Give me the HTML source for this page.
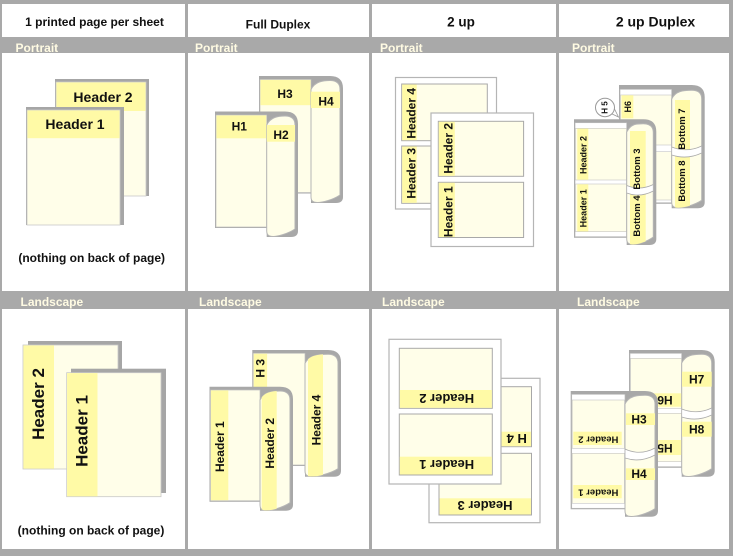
<!DOCTYPE html>
<html><head><meta charset="utf-8">
<style>
html,body{margin:0;padding:0;background:#fff;}
svg{display:block;}
text{font-family:"Liberation Sans",Arial,sans-serif;font-weight:bold;}
.c{text-anchor:middle;dominant-baseline:central;fill:#111;}
.bar{fill:#fffbe3;font-size:12px;}
</style></head><body>
<svg width="733" height="556" viewBox="0 0 733 556" xmlns="http://www.w3.org/2000/svg">
<defs>
<path id="pA" d="M311,89.5 C315,81.5 323,80.5 330,80.5 Q340,80.5 340,89.5 L340,195 C334,199 321,204 314,202 Q311,201 311,197 Z"/>
<path id="pB" d="M266.7,125 C270.7,117 278,116 285,116 Q295,116 295,125 L295,229 C289,233 276,238 269.7,236 Q266.7,235 266.7,231 Z"/>
<path id="pC" d="M305,363.3 C309,355.3 318,354.3 328,354.3 Q338,354.3 338,363.3 L338,468.7 C332,472.7 316,478 308,476 Q305,475 305,471 Z"/>
<path id="pD" d="M260,400 C264,392 272,391 280,391 Q290,391 290,400 L290,502.7 C284,506.7 270,512 263,510 Q260,509 260,505 Z"/>
<path id="pE" d="M671.7,99 C675.7,91 683,90.3 691.7,90.3 Q701.7,90.3 701.7,99 L701.7,200.3 C695.7,204.3 682,209.3 674.7,207.3 Q671.7,206.3 671.7,202.3 Z"/>
<path id="pF" d="M626.7,132 C630.7,124 636,123.7 643.3,123.7 Q653.3,123.7 653.3,132.7 L653.3,237 C648,241 636,246 629.7,244 Q626.7,243 626.7,239 Z"/>
<path id="pG" d="M681.7,363 C685.7,355 693,354.3 701.7,354.3 Q711.7,354.3 711.7,363.3 L711.7,468.7 C705.7,472.7 692,478 684.7,476 Q681.7,475 681.7,471 Z"/>
<path id="pH" d="M625,404 C629,396 637,395.3 645,395.3 Q655,395.3 655,404.3 L655,508.7 C649,512.7 635,518 628,516 Q625,515 625,511 Z"/>
<clipPath id="cA"><use href="#pA"/></clipPath>
<clipPath id="cB"><use href="#pB"/></clipPath>
<clipPath id="cC"><use href="#pC"/></clipPath>
<clipPath id="cD"><use href="#pD"/></clipPath>
<clipPath id="cE"><use href="#pE"/></clipPath>
<clipPath id="cF"><use href="#pF"/></clipPath>
<clipPath id="cG"><use href="#pG"/></clipPath>
<clipPath id="cH"><use href="#pH"/></clipPath>
</defs>

<!-- frame -->
<rect width="733" height="556" fill="#a9a9a9"/>
<rect x="2" y="4" width="183" height="33" fill="#fff"/>
<rect x="188" y="4" width="181" height="33" fill="#fff"/>
<rect x="372" y="4" width="184" height="33" fill="#fff"/>
<rect x="559" y="4" width="170" height="33" fill="#fff"/>
<rect x="2" y="53" width="183" height="238" fill="#fff"/>
<rect x="188" y="53" width="181" height="238" fill="#fff"/>
<rect x="372" y="53" width="184" height="238" fill="#fff"/>
<rect x="559" y="53" width="170" height="238" fill="#fff"/>
<rect x="2" y="309" width="183" height="240" fill="#fff"/>
<rect x="188" y="309" width="181" height="240" fill="#fff"/>
<rect x="372" y="309" width="184" height="240" fill="#fff"/>
<rect x="559" y="309" width="170" height="240" fill="#fff"/>

<!-- titles -->
<text x="94.5" y="26" font-size="12" text-anchor="middle" fill="#111">1 printed page per sheet</text>
<text x="278" y="28.3" font-size="12" text-anchor="middle" fill="#111">Full Duplex</text>
<text x="461" y="26.5" font-size="13.5" text-anchor="middle" fill="#111">2 up</text>
<text x="655.5" y="26.5" font-size="14" text-anchor="middle" fill="#111">2 up Duplex</text>

<text x="15.5" y="52" class="bar">Portrait</text>
<text x="195" y="52" class="bar">Portrait</text>
<text x="380" y="52" class="bar">Portrait</text>
<text x="572" y="52" class="bar">Portrait</text>
<text x="20.5" y="306" class="bar">Landscape</text>
<text x="199" y="306" class="bar">Landscape</text>
<text x="382" y="306" class="bar">Landscape</text>
<text x="577" y="306" class="bar">Landscape</text>

<!-- ============ COL1 PORTRAIT ============ -->
<rect x="55" y="79" width="94" height="117" fill="#a6a6a6"/>
<rect x="56" y="82" width="90" height="114" fill="#fffee9" stroke="#c8c8c8" stroke-width="0.8"/>
<rect x="56.4" y="82.4" width="89.2" height="28.6" fill="#fffaa6"/>
<text x="103" y="97" font-size="14" class="c">Header 2</text>
<rect x="26" y="107" width="98" height="118" fill="#a6a6a6"/>
<rect x="27" y="110" width="93" height="115" fill="#fffee9" stroke="#c8c8c8" stroke-width="0.8"/>
<rect x="27.4" y="110.4" width="92.2" height="27.8" fill="#fffaa6"/>
<text x="75" y="124" font-size="14" class="c">Header 1</text>
<text x="91.7" y="258" font-size="12" class="c">(nothing on back of page)</text>

<!-- ============ COL1 LANDSCAPE ============ -->
<rect x="28" y="341" width="94" height="126" fill="#a6a6a6"/>
<rect x="23" y="345" width="95" height="124" fill="#fffee9" stroke="#c8c8c8" stroke-width="0.8"/>
<rect x="23.4" y="345.4" width="30.6" height="123.2" fill="#fffaa6"/>
<text x="38.5" y="404" font-size="17" class="c" transform="rotate(-90 38.5 404)">Header 2</text>
<rect x="71" y="368.7" width="95" height="124.3" fill="#a6a6a6"/>
<rect x="66.7" y="372.7" width="94.3" height="124" fill="#fffee9" stroke="#c8c8c8" stroke-width="0.8"/>
<rect x="67.1" y="373.1" width="30.4" height="123.2" fill="#fffaa6"/>
<text x="82" y="431" font-size="17" class="c" transform="rotate(-90 82 431)">Header 1</text>
<text x="91" y="530.7" font-size="12" class="c">(nothing on back of page)</text>

<!-- ============ COL2 PORTRAIT (Full Duplex) ============ -->
<path d="M259,76 L330,76 Q343,76 343,88.5 L343,197 Q343,203 336,203 L311,203 L311,193.5 L259,193.5 Z" fill="#a8a8a8"/>
<rect x="260" y="79.5" width="51" height="113" fill="#fffee9" stroke="#c0c0c0" stroke-width="0.7"/>
<rect x="260.4" y="79.9" width="50.2" height="25.3" fill="#fffaa6"/>
<use href="#pA" fill="#fffee9" stroke="#b5b5b5" stroke-width="1"/>
<rect x="311" y="91.7" width="29" height="16.3" fill="#fffaa6" clip-path="url(#cA)"/>
<text x="285" y="94" font-size="12" class="c">H3</text>
<text x="326" y="101.5" font-size="12" class="c">H4</text>
<path d="M215,111.5 L285,111.5 Q298,111.5 298,124 L298,231 Q298,237 291,237 L266.7,237 L266.7,228 L215,228 Z" fill="#a8a8a8"/>
<rect x="216" y="115" width="50.7" height="112" fill="#fffee9" stroke="#c0c0c0" stroke-width="0.7"/>
<rect x="216.4" y="115.4" width="49.9" height="22.9" fill="#fffaa6"/>
<use href="#pB" fill="#fffee9" stroke="#b5b5b5" stroke-width="1"/>
<rect x="266.7" y="125" width="28.3" height="16.7" fill="#fffaa6" clip-path="url(#cB)"/>
<text x="239.3" y="126.7" font-size="12" class="c">H1</text>
<text x="281" y="135" font-size="12" class="c">H2</text>

<!-- ============ COL2 LANDSCAPE ============ -->
<path d="M252.3,350 L328,350 Q341,350 341,362.3 L341,470.7 Q341,476.7 334,476.7 L305,476.7 L305,466 L252.3,466 Z" fill="#a8a8a8"/>
<rect x="253.3" y="353.3" width="51.7" height="111.7" fill="#fffee9" stroke="#c0c0c0" stroke-width="0.7"/>
<rect x="253.7" y="353.7" width="13.4" height="110.9" fill="#fffaa6"/>
<use href="#pC" fill="#fffee9" stroke="#b5b5b5" stroke-width="1"/>
<rect x="308" y="353" width="15" height="126" fill="#fffaa6" clip-path="url(#cC)"/>
<text x="260.7" y="368.3" font-size="12" class="c" transform="rotate(-90 260.7 368.3)">H 3</text>
<text x="316.7" y="420" font-size="12" class="c" transform="rotate(-90 316.7 420)">Header 4</text>
<path d="M209.5,386.7 L280,386.7 Q293,386.7 293,399 L293,504.7 Q293,510.7 286,510.7 L260,510.7 L260,501.7 L209.5,501.7 Z" fill="#a8a8a8"/>
<rect x="210.5" y="390" width="49.5" height="110.7" fill="#fffee9" stroke="#c0c0c0" stroke-width="0.7"/>
<rect x="210.9" y="390.4" width="17.4" height="109.9" fill="#fffaa6"/>
<use href="#pD" fill="#fffee9" stroke="#b5b5b5" stroke-width="1"/>
<rect x="261.7" y="390" width="15" height="125" fill="#fffaa6" clip-path="url(#cD)"/>
<text x="220" y="446.7" font-size="12" class="c" transform="rotate(-90 220 446.7)">Header 1</text>
<text x="270" y="443.3" font-size="12" class="c" transform="rotate(-90 270 443.3)">Header 2</text>

<!-- ============ COL3 PORTRAIT (2 up) ============ -->
<rect x="395.5" y="77.5" width="101" height="131.5" fill="#fff" stroke="#b5b5b5" stroke-width="1.2"/>
<rect x="401.7" y="84" width="85.6" height="56.7" fill="#fffee9" stroke="#a8a8a8" stroke-width="1"/>
<rect x="402.2" y="84.5" width="14.5" height="55.7" fill="#fffaa6"/>
<text x="411.7" y="113.3" font-size="12" class="c" transform="rotate(-90 411.7 113.3)">Header 4</text>
<rect x="401.7" y="146" width="85.6" height="57.3" fill="#fffee9" stroke="#a8a8a8" stroke-width="1"/>
<rect x="402.2" y="146.5" width="14.5" height="56.3" fill="#fffaa6"/>
<text x="411.7" y="173.3" font-size="12" class="c" transform="rotate(-90 411.7 173.3)">Header 3</text>

<rect x="431" y="113" width="102.5" height="133.5" fill="#fff" stroke="#b5b5b5" stroke-width="1.2"/>
<rect x="438.3" y="121.3" width="85.3" height="55" fill="#fffee9" stroke="#a8a8a8" stroke-width="1"/>
<rect x="438.8" y="121.8" width="16" height="54" fill="#fffaa6"/>
<text x="448.3" y="148.3" font-size="12" class="c" transform="rotate(-90 448.3 148.3)">Header 2</text>
<rect x="438.3" y="182.3" width="85.3" height="55.2" fill="#fffee9" stroke="#a8a8a8" stroke-width="1"/>
<rect x="438.8" y="182.8" width="16" height="54.2" fill="#fffaa6"/>
<text x="448.3" y="211.7" font-size="12" class="c" transform="rotate(-90 448.3 211.7)">Header 1</text>

<!-- ============ COL3 LANDSCAPE ============ -->
<rect x="429" y="378.3" width="111" height="144.4" fill="#fff" stroke="#b5b5b5" stroke-width="1.2"/>
<rect x="439" y="386.7" width="92.5" height="60" fill="#fffee9" stroke="#a8a8a8" stroke-width="1"/>
<rect x="439.5" y="431.7" width="91.5" height="14.5" fill="#fffaa6"/>
<text x="516.7" y="438.5" font-size="13" class="c" transform="rotate(180 516.7 438.5)">H 4</text>
<rect x="439" y="453.3" width="92.5" height="61.7" fill="#fffee9" stroke="#a8a8a8" stroke-width="1"/>
<rect x="439.5" y="498.3" width="91.5" height="16.2" fill="#fffaa6"/>
<text x="485" y="505.7" font-size="13" class="c" transform="rotate(180 485 505.7)">Header 3</text>

<rect x="389" y="339.3" width="112" height="144.7" fill="#fff" stroke="#b5b5b5" stroke-width="1.2"/>
<rect x="399.3" y="348.3" width="93" height="60" fill="#fffee9" stroke="#a8a8a8" stroke-width="1"/>
<rect x="399.8" y="390" width="92" height="17.8" fill="#fffaa6"/>
<text x="446.7" y="398.5" font-size="13" class="c" transform="rotate(180 446.7 398.5)">Header 2</text>
<rect x="399.3" y="414" width="93" height="61" fill="#fffee9" stroke="#a8a8a8" stroke-width="1"/>
<rect x="399.8" y="456.7" width="92" height="17.8" fill="#fffaa6"/>
<text x="446.7" y="464.5" font-size="13" class="c" transform="rotate(180 446.7 464.5)">Header 1</text>

<!-- ============ COL4 PORTRAIT (2 up Duplex) ============ -->
<path d="M619,85 L691.7,85 Q704.7,85 704.7,97.3 L704.7,202.3 Q704.7,208.3 697.7,208.3 L671.7,208.3 L671.7,203.7 L619,203.7 Z" fill="#a8a8a8"/>
<rect x="620" y="89.3" width="51.7" height="113.4" fill="#fff" stroke="#bbb" stroke-width="0.7"/>
<rect x="620.5" y="95" width="51" height="50" fill="#fffee9" stroke="#c4c4c4" stroke-width="0.6"/>
<rect x="620.5" y="151.7" width="51" height="48.3" fill="#fffee9" stroke="#c4c4c4" stroke-width="0.6"/>
<rect x="621.5" y="95.3" width="11.8" height="23" fill="#fffaa6"/>
<text x="628" y="106.7" font-size="9" class="c" transform="rotate(-90 628 106.7)">H6</text>
<use href="#pE" fill="#fffee9" stroke="#b5b5b5" stroke-width="1"/>
<rect x="675" y="100" width="15" height="110" fill="#fffaa6" clip-path="url(#cE)"/>
<path d="M671.7,147 Q687,153 701.7,146 L701.7,153 Q687,160 671.7,155 Z" fill="#fff" stroke="#aaa" stroke-width="0.8" clip-path="url(#cE)"/>
<text x="682.3" y="129" font-size="9.5" class="c" transform="rotate(-90 682.3 129)">Bottom 7</text>
<text x="682.3" y="181" font-size="9.5" class="c" transform="rotate(-90 682.3 181)">Bottom 8</text>
<path d="M610,113 L618.5,117 L614,108 Z" fill="#fff" stroke="#999" stroke-width="0.8"/>
<ellipse cx="605" cy="107.5" rx="9.5" ry="9.2" fill="#fff" stroke="#999" stroke-width="1"/>
<text x="605" y="107.5" font-size="8" class="c" transform="rotate(-90 605 107.5)">H 5</text>
<path d="M574,119.3 L643.3,119.3 Q656.3,119.3 656.3,131.7 L656.3,239 Q656.3,245 649.3,245 L626.7,245 L626.7,237.7 L574,237.7 Z" fill="#a8a8a8"/>
<rect x="575" y="122.7" width="51.7" height="114" fill="#fff" stroke="#bbb" stroke-width="0.7"/>
<rect x="575.5" y="128.3" width="51" height="51.7" fill="#fffee9" stroke="#c4c4c4" stroke-width="0.6"/>
<rect x="575.5" y="184" width="51" height="47.7" fill="#fffee9" stroke="#c4c4c4" stroke-width="0.6"/>
<rect x="577.3" y="128.6" width="11" height="51.1" fill="#fffaa6"/>
<rect x="577.3" y="184.3" width="11" height="47.1" fill="#fffaa6"/>
<text x="583.3" y="155" font-size="9" class="c" transform="rotate(-90 583.3 155)">Header 2</text>
<text x="583.3" y="208.3" font-size="9" class="c" transform="rotate(-90 583.3 208.3)">Header 1</text>
<use href="#pF" fill="#fffee9" stroke="#b5b5b5" stroke-width="1"/>
<rect x="630" y="131" width="15.7" height="116" fill="#fffaa6" clip-path="url(#cF)"/>
<path d="M626.7,185.5 Q640,191 653.3,184.5 L653.3,191 Q640,198 626.7,193 Z" fill="#fff" stroke="#aaa" stroke-width="0.8" clip-path="url(#cF)"/>
<text x="637.7" y="169" font-size="9.5" class="c" transform="rotate(-90 637.7 169)">Bottom 3</text>
<text x="637.7" y="216" font-size="9.5" class="c" transform="rotate(-90 637.7 216)">Bottom 4</text>

<!-- ============ COL4 LANDSCAPE ============ -->
<path d="M629,350 L701.7,350 Q714.7,350 714.7,362.3 L714.7,470.7 Q714.7,476.7 707.7,476.7 L681.7,476.7 L681.7,467.7 L629,467.7 Z" fill="#a8a8a8"/>
<rect x="630" y="353.3" width="51.7" height="113.4" fill="#fff" stroke="#bbb" stroke-width="0.7"/>
<rect x="630.5" y="358.3" width="51" height="50" fill="#fffee9" stroke="#c4c4c4" stroke-width="0.6"/>
<rect x="630.5" y="413.3" width="51" height="48.4" fill="#fffee9" stroke="#c4c4c4" stroke-width="0.6"/>
<rect x="651.7" y="393.3" width="30" height="13.4" fill="#fffaa6"/>
<rect x="651.7" y="440" width="30" height="15" fill="#fffaa6"/>
<text x="665" y="400" font-size="12" class="c" transform="rotate(180 665 400)">H6</text>
<text x="665" y="448" font-size="12" class="c" transform="rotate(180 665 448)">H5</text>
<use href="#pG" fill="#fffee9" stroke="#b5b5b5" stroke-width="1"/>
<rect x="682" y="371.7" width="30" height="15" fill="#fffaa6" clip-path="url(#cG)"/>
<rect x="682" y="421.7" width="30" height="15" fill="#fffaa6" clip-path="url(#cG)"/>
<path d="M681.7,409 Q697,415 711.7,408 L711.7,415 Q697,422 681.7,417 Z" fill="#fff" stroke="#aaa" stroke-width="0.8" clip-path="url(#cG)"/>
<text x="696.7" y="379.3" font-size="12" class="c">H7</text>
<text x="696.7" y="429.3" font-size="12" class="c">H8</text>
<path d="M570.7,391 L645,391 Q658,391 658,403.3 L658,510.7 Q658,516.7 651,516.7 L625,516.7 L625,509.3 L570.7,509.3 Z" fill="#a8a8a8"/>
<rect x="571.7" y="394.3" width="53.3" height="114" fill="#fff" stroke="#bbb" stroke-width="0.7"/>
<rect x="572.2" y="400" width="52.3" height="48.3" fill="#fffee9" stroke="#c4c4c4" stroke-width="0.6"/>
<rect x="572.2" y="453.3" width="52.3" height="50" fill="#fffee9" stroke="#c4c4c4" stroke-width="0.6"/>
<rect x="573.3" y="431.7" width="48.4" height="13.3" fill="#fffaa6"/>
<rect x="573.3" y="485" width="48.4" height="13.3" fill="#fffaa6"/>
<text x="598.3" y="439" font-size="9.5" class="c" transform="rotate(180 598.3 439)">Header 2</text>
<text x="598.3" y="492" font-size="9.5" class="c" transform="rotate(180 598.3 492)">Header 1</text>
<use href="#pH" fill="#fffee9" stroke="#b5b5b5" stroke-width="1"/>
<rect x="626" y="413.3" width="29" height="11.7" fill="#fffaa6" clip-path="url(#cH)"/>
<rect x="626" y="468.3" width="29" height="11.7" fill="#fffaa6" clip-path="url(#cH)"/>
<path d="M625,449 Q640,456 655,448 L655,455 Q640,463 625,458 Z" fill="#fff" stroke="#aaa" stroke-width="0.8" clip-path="url(#cH)"/>
<text x="639" y="419.5" font-size="12" class="c">H3</text>
<text x="639" y="474" font-size="12" class="c">H4</text>
</svg>
</body></html>
